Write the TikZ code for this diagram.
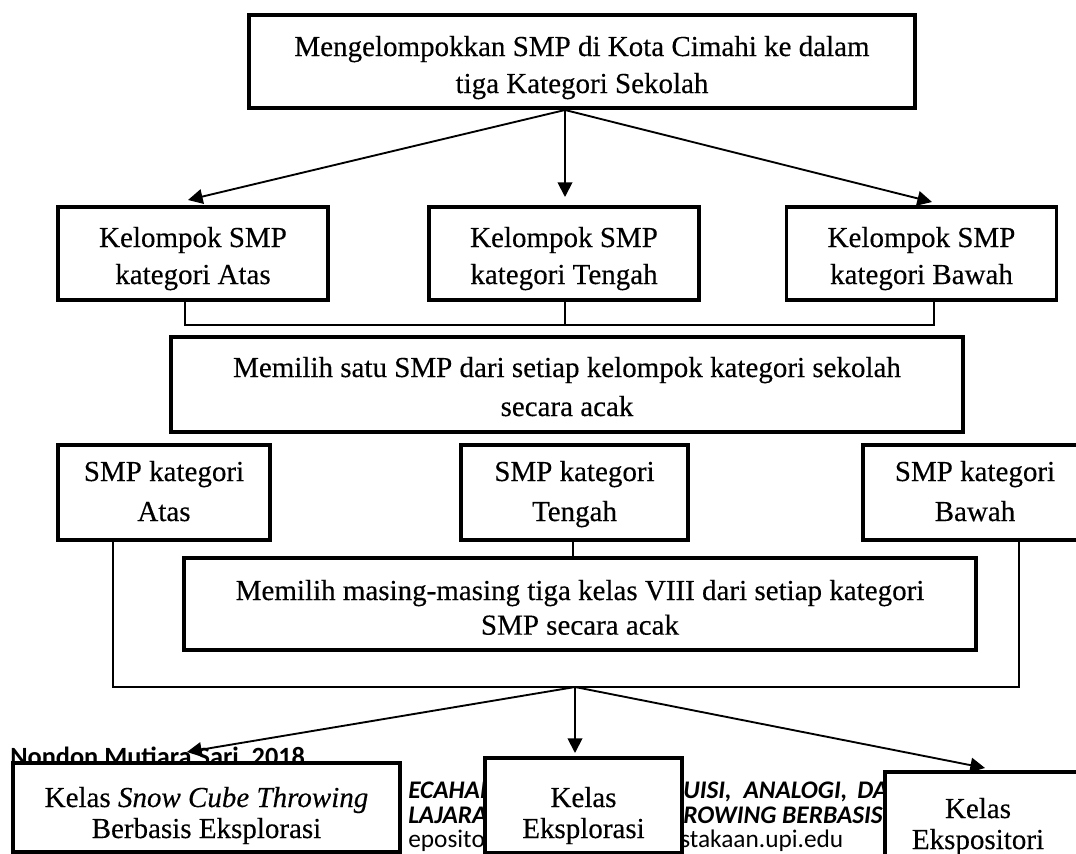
\documentclass[tikz,border=0pt]{standalone}
\usepackage{fontspec}
\setmainfont{Liberation Serif}[FakeBold=0.3]
\newfontfamily\wmfont{Carlito}
\usetikzlibrary{arrows.meta}
\newcommand\twol[2]{\begin{tabular}[t]{@{}c@{}}#1\\#2\end{tabular}}
\begin{document}
\begin{tikzpicture}[x=0.75pt,y=-0.75pt,
  bx/.style={draw, line width=2.5pt, fill=white, inner sep=0pt},
  lbl/.style={anchor=base, inner sep=0pt, font=\fontsize{21.75pt}{27.75pt}\selectfont},
  arr/.style={line width=1.4pt, -{Triangle[length=11pt,width=11pt]}},
  conn/.style={line width=0.8pt},
  wm/.style={anchor=base west, inner sep=0pt, font=\wmfont\fontsize{19pt}{23pt}\selectfont}]
\clip (0,0) rectangle (1076,854);
\fill[white] (0,0) rectangle (1076,854);

% footer text of the page underneath
\node[wm, font=\wmfont\fontsize{19.75pt}{23pt}\selectfont\bfseries] (wmA) at (10,765) {Nondon Mutiara Sari, 2018};
\node[wm, font=\wmfont\fontsize{19pt}{23pt}\selectfont\bfseries\itshape] (wmB1) at (408,798) {ECAHAN};
\node[wm, font=\wmfont\fontsize{19pt}{23pt}\selectfont\bfseries\itshape] (wmB2) at (683,798) {UISI,\hspace{9pt}ANALOGI,\hspace{7.5pt}DAN};
\node[wm, font=\wmfont\fontsize{19pt}{23pt}\selectfont\bfseries\itshape] (wmC1) at (408,823) {LAJARAN};
\node[wm, font=\wmfont\fontsize{19pt}{23pt}\selectfont\bfseries\itshape] (wmC2) at (683,823) {ROWING BERBASIS};
\node[wm] (wmD1) at (408,847) {epository};
\node[wm] (wmD2) at (680,847) {stakaan.upi.edu};

% boxes
\node[bx, minimum width=499.5pt, minimum height=69.75pt] (top) at (582,61.5) {};
\node[bx, minimum width=202.5pt, minimum height=69.75pt] (KA) at (193,253.5) {};
\node[bx, minimum width=202.5pt, minimum height=69.75pt] (KT) at (564,253.5) {};
\node[bx, minimum width=202.5pt, minimum height=69.75pt] (KB) at (921.5,253.5) {};
\node[bx, minimum width=594pt, minimum height=71.25pt] (M1) at (567,384.5) {};
\node[bx, minimum width=159pt, minimum height=71.25pt] (SA) at (164,492.5) {};
\node[bx, minimum width=170.25pt, minimum height=71.25pt] (ST) at (574.5,492.5) {};
\node[bx, minimum width=168.75pt, minimum height=71.25pt] (SB) at (975.5,492.5) {};
\node[bx, minimum width=594pt, minimum height=69pt] (M2) at (580,604) {};
\node[bx, minimum width=290.25pt, minimum height=66.75pt] (snow) at (206.5,807.5) {};
\node[bx, minimum width=147.75pt, minimum height=71.25pt] (expl) at (583.5,805.5) {};
\node[bx, minimum width=150pt, minimum height=75pt] (expo) at (985,822) {};

% texts
\node[lbl] (topT) at (582,56) {\twol{Mengelompokkan SMP di Kota Cimahi ke dalam}{tiga Kategori Sekolah}};
\node[lbl] (KAT) at (193,247) {\twol{Kelompok SMP}{kategori Atas}};
\node[lbl] (KTT) at (564,247) {\twol{Kelompok SMP}{kategori Tengah}};
\node[lbl] (KBT) at (921.5,247) {\twol{Kelompok SMP}{kategori Bawah}};
\node[lbl, font=\fontsize{21.75pt}{29.25pt}\selectfont] (M1T) at (567,377)
  {\twol{Memilih satu SMP dari setiap kelompok kategori sekolah}{secara acak}};
\node[lbl, font=\fontsize{21.75pt}{30pt}\selectfont] (SAT) at (164,481) {\twol{SMP kategori}{Atas}};
\node[lbl, font=\fontsize{21.75pt}{30pt}\selectfont] (STT) at (574.5,481) {\twol{SMP kategori}{Tengah}};
\node[lbl, font=\fontsize{21.75pt}{30pt}\selectfont] (SBT) at (975,481) {\twol{SMP kategori}{Bawah}};
\node[lbl, font=\fontsize{21.75pt}{26pt}\selectfont] (M2T) at (580,600)
  {\twol{Memilih masing-masing tiga kelas VIII dari setiap kategori}{SMP secara acak}};
\node[lbl, font=\fontsize{21.75pt}{23.25pt}\selectfont] (snowT) at (206.5,807)
  {\twol{Kelas \textit{Snow Cube Throwing}}{Berbasis Eksplorasi}};
\node[lbl, font=\fontsize{21.75pt}{23.25pt}\selectfont] (explT) at (583.5,807) {\twol{Kelas}{Eksplorasi}};
\node[lbl, font=\fontsize{21.75pt}{23.25pt}\selectfont] (expoT) at (978,818) {\twol{Kelas}{Ekspositori}};

% top arrows
\coordinate (src1) at (565,110);
\coordinate (tKA) at (188,200);
\coordinate (tKT) at (565,197);
\coordinate (tKB) at (932,202);
\draw[arr] (src1) -- (tKA);
\draw[arr] (src1) -- (tKT);
\draw[arr] (src1) -- (tKB);

% joining lines under Kelompok boxes
\coordinate (j1) at (185,325);
\coordinate (j2) at (934,325);
\coordinate (j3) at (565,325);
\draw[conn] (KA.south -| j1) -- (j1) -- (j2) -- (KB.south -| j2);
\draw[conn] (KT.south -| j3) -- (j3);

% lines under SMP boxes
\coordinate (k1) at (113,687);
\coordinate (k2) at (1019,687);
\coordinate (k3) at (573,560);
\draw[conn] (SA.south -| k1) -- (k1) -- (k2) -- (SB.south -| k2);
\draw[conn] (ST.south -| k3) -- (M2.north -| k3);

% bottom arrows
\coordinate (src2) at (575,687);
\coordinate (tsnow) at (187,752);
\coordinate (texpl) at (575,753);
\coordinate (texpo) at (985,768);
\draw[arr] (src2) -- (tsnow);
\draw[arr] (src2) -- (texpl);
\draw[arr] (src2) -- (texpo);
\end{tikzpicture}
\end{document}
